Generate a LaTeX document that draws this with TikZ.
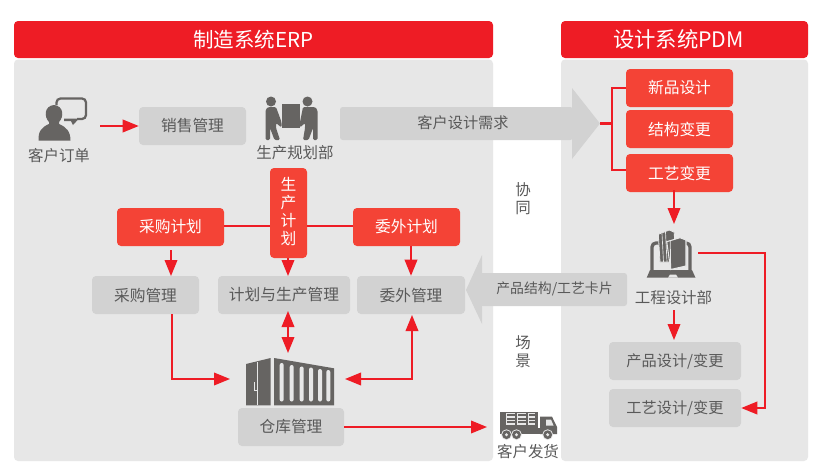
\documentclass[tikz,border=0pt]{standalone}
\usepackage{fontspec}
\setmainfont{Noto Sans CJK SC}
\usetikzlibrary{arrows.meta,calc}
\definecolor{hdr}{HTML}{EE1C25}
\definecolor{redbox}{HTML}{F44336}
\definecolor{panel}{HTML}{E7E7E7}
\definecolor{greybox}{HTML}{D2D2D2}
\definecolor{icon}{HTML}{666462}
\definecolor{txt}{HTML}{595959}
\newcommand{\tightlines}{\lineskiplimit=-20pt\relax}
\tikzset{
  box/.style={rounded corners=3pt,inner sep=0pt,font=\fontsize{11.8pt}{13.5pt}\selectfont,align=center},
  greyb/.style={box,fill=greybox,text=txt},
  redb/.style={box,fill=redbox,text=white},
  panelb/.style={inner sep=0pt,fill=panel,rounded corners=3pt},
  hdrb/.style={inner sep=0pt,fill=hdr,rounded corners=3pt,text=white,font=\fontsize{15.4pt}{18pt}\selectfont},
  lbl/.style={inner sep=0pt,text=txt,font=\fontsize{11.6pt}{14pt}\selectfont},
  flow/.style={draw=hdr,line width=1.1pt,-{Triangle[length=12pt,width=9.5pt]}},
  flowtwo/.style={draw=hdr,line width=1.1pt,{Triangle[length=12pt,width=9.5pt]}-{Triangle[length=12pt,width=9.5pt]}},
  plain/.style={draw=hdr,line width=1.1pt},
  bigarrow/.style={fill=greybox},
  ico/.style={fill=icon},
}
\newcommand{\bx}[7]{% style,name,x0,y0,x1,y1,text
  \node[#1,minimum width={(#5-#3)*0.75pt},minimum height={(#6-#4)*0.75pt}] (#2) at ({(#3+#5)/2},{(#4+#6)/2}) {#7};}
\begin{document}
\begin{tikzpicture}[x=0.75pt,y=-0.75pt]
\useasboundingbox (0,0) rectangle (839,475);
\fill[white] (0,0) rectangle (839,475);
% panels
\bx{panelb}{erp}{14}{59.5}{493}{461}{}
\bx{panelb}{pdm}{561}{59.5}{808}{461}{}
\bx{hdrb}{erph}{14}{21}{493}{58}{制造系统ERP}
\bx{hdrb}{pdmh}{561}{21}{808}{58}{\fontsize{16pt}{18pt}\selectfont 设计系统PDM\rule{9pt}{0pt}}
% large arrows
\fill[bigarrow,rounded corners=2pt] (340,107) -- (573,107) -- (573,140) -- (340,140) -- cycle;
\fill[bigarrow] (572,88) -- (600,123.5) -- (572,159) -- cycle;
\fill[bigarrow,rounded corners=2pt] (627,273) -- (480,273) -- (480,306) -- (627,306) -- cycle;
\fill[bigarrow] (482,255) -- (466,290) -- (482,324) -- cycle;
\node[lbl,font=\fontsize{11.4pt}{14pt}\selectfont] (needlbl) at (463,123) {客户设计需求};
\node[lbl,font=\fontsize{10.4pt}{14pt}\selectfont] (cardlbl) at (554.5,289) {产品结构/工艺卡片};
\coordinate (needtip) at (600,123.5);
% boxes
\bx{greyb}{sales}{139}{107}{246}{145}{销售管理}
\bx{redb}{buyplan}{117}{208}{224}{246}{采购计划}
\bx{redb}{prodplan}{270}{168}{307}{258}{\tightlines 生\\产\\计\\划\\[-11pt]\mbox{}}
\bx{redb}{outplan}{353}{208}{460}{246}{委外计划}
\bx{greyb}{buymgr}{92}{276}{199}{314}{采购管理}
\bx{greyb}{prodmgr}{218}{276}{350}{314}{计划与生产管理}
\bx{greyb}{outmgr}{357}{276}{465}{314}{委外管理}
\bx{greyb}{wh}{238}{408}{344}{446}{仓库管理}
\bx{redb}{newd}{626}{69}{733}{107}{新品设计}
\bx{redb}{strd}{626}{110}{733}{148}{结构变更}
\bx{redb}{prcd}{626}{154}{733}{192}{工艺变更}
\bx{greyb}{pdes}{609}{342}{741}{380}{\fontsize{11.4pt}{14pt}\selectfont 产品设计/变更}
\bx{greyb}{tdes}{609}{389}{741}{427}{\fontsize{11.4pt}{14pt}\selectfont 工艺设计/变更}
% labels
\node[lbl] (order) at (59,156) {客户订单};
\node[lbl] (plandept) at (295,153) {生产规划部};
\node[lbl] (xie) at (523,190) {协};
\node[lbl] (tong) at (523,208.5) {同};
\node[lbl] (chang) at (523,343) {场};
\node[lbl] (jing) at (523,361) {景};
\node[lbl] (ship) at (528,452) {客户发货};
\node[lbl] (engdept) at (673.5,298) {工程设计部};
% named free ends
\coordinate (orderout) at (100,126);
\coordinate (whin) at (230,379);
\coordinate (whout) at (345,379);
\coordinate (truckin) at (487,427);
\coordinate (lapin) at (674,224);
\coordinate (lapout) at (698,253);
\coordinate (engout) at (674,310);
% connectors
\draw[flow] (orderout) -- (orderout -| sales.west);
\draw[plain] (buyplan.east |- 0,226) -- (prodplan.west |- 0,226);
\draw[plain] (prodplan.east |- 0,226) -- (outplan.west |- 0,226);
\draw[flow] (171,250) -- (171,276);
\draw[flow] (288,258) -- (288,276);
\draw[flow] (outmgr.north |- outplan.south) -- (outmgr.north);
\draw[flow] (172,314) -- (172,379) -- (whin);
\draw[flowtwo] (288,311) -- (288,353);
\draw[flowtwo] (whout) -- (412,379) -- (412,315);
\draw[flow] (wh.east |- truckin) -- (truckin);
\draw[plain,line width=1.9pt] (needtip) -- (612,123.5);
\draw[plain] (newd.west |- 0,88) -- (612,88) -- (612,170) -- (prcd.west |- 0,170);
\draw[flow] (674,190) -- (lapin);
\draw[flow] (engout) -- (674,340);
\draw[flow] (lapout) -- (765,253) -- (765,408) -- (tdes.east |- 0,408);
% --- person icon
\fill[ico] (38.5,140.7) .. controls (38,131) and (42,127) .. (49,124) -- (49,122)
  .. controls (44,117) and (44,106) .. (54,105) .. controls (64,106) and (64,117) .. (59,122) -- (59,124)
  .. controls (66,127) and (70.5,131) .. (70.5,140.7) -- cycle;
\draw[icon,line width=1.7pt,rounded corners=3pt] (56.5,105) -- (56.5,98.5) -- (86,98.5) -- (86,119) -- (77,119);
\fill[ico] (64,118.5) -- (79,118.5) -- (73,125) -- (71,121) -- (64,121) -- cycle;
% --- movers icon
\fill[ico] (281.5,103.5) rectangle (300,127.5);
\fill[ico] (271,101.5) circle (5);
\fill[ico] (307.5,101.5) circle (5);
\fill[ico,rounded corners=1pt] (265.5,110) -- (268,107) -- (276,107) -- (281.5,122) -- (281.5,127.5) -- (276,123) -- (276,128)
   -- (280,140) -- (274.5,140) -- (270,128) -- (270,140) -- (265.5,140) -- cycle;
\fill[ico,rounded corners=1pt] (317.5,110) -- (315,107) -- (303,107) -- (300,122) -- (300,127.5) -- (305,123) -- (305,128)
   -- (303,140) -- (308.5,140) -- (313,128) -- (313,140) -- (317.5,140) -- cycle;
% --- warehouse icon
\fill[ico] (246,364) -- (270.7,358) -- (270.7,405.3) -- (246,405.3) -- cycle;
\fill[ico] (274,358) -- (334,368.3) -- (334,405.3) -- (274,405.3) -- cycle;
\draw[panel,line width=0.5pt] (257,362) -- (257,405.3);
\draw[panel,line width=0.5pt] (254,382) -- (254,390) -- (257,390);
\foreach \x/\y in {281.7/363,291.7/365,301.7/366.5,311/367.5,320/369,328.3/370}{
  \fill[panel,rounded corners=1.5pt] (\x-2,\y) rectangle (\x+2,401.5);
}
% --- laptop icon
\draw[icon,line width=2.5pt,rounded corners=3pt] (652,270) -- (652,243) -- (690,243) -- (690,270);
\fill[ico] (646.7,277.7) -- (650,270) -- (692,270) -- (695.5,277.7) -- cycle;
\fill[panel] (668,277.7) -- (670,274.5) -- (676,274.5) -- (678,277.7) -- cycle;
\fill[ico,draw=panel,line width=0.6pt] (658.3,234.3) -- (669.3,230) -- (674.3,232.3) -- (675,262) -- (660,262) -- cycle;
\draw[panel,line width=0.5pt] (662,233.5) -- (663.5,262) (665.5,232) -- (667,262);
\fill[ico,draw=panel,line width=0.8pt] (666.7,241.7) -- (680,237.7) -- (686,240) -- (686,266) -- (670.7,269.5) -- cycle;
\draw[panel,line width=0.6pt] (670.2,241) -- (670.7,269.5);
% --- truck icon
\fill[ico] (500,411.7) rectangle (537.5,428);
\fill[ico] (500,428) rectangle (557,434);
\fill[ico] (540,416.7) -- (552,416.7) -- (557,427) -- (557,434) -- (540,434) -- cycle;
\fill[panel] (546,419.5) -- (551,419.5) -- (553.5,425.5) -- (546,425.5) -- cycle;
\foreach \x/\w in {506.5/8.5,517.5/8,528.2/7}{
  \foreach \y in {413.5,417,420.5,424}{
    \draw[panel,line width=0.8pt] (\x,\y) -- (\x+\w,\y);
  }
  \draw[panel,line width=0.8pt] (\x,413) -- (\x,424.5);
}
\foreach \x in {506.5,516.5,547.7}{
  \fill[panel] (\x,434.7) circle (5.4);
  \fill[ico] (\x,434.7) circle (4.4);
  \fill[panel] (\x,434.7) circle (1.7);
}
\end{tikzpicture}
\end{document}
